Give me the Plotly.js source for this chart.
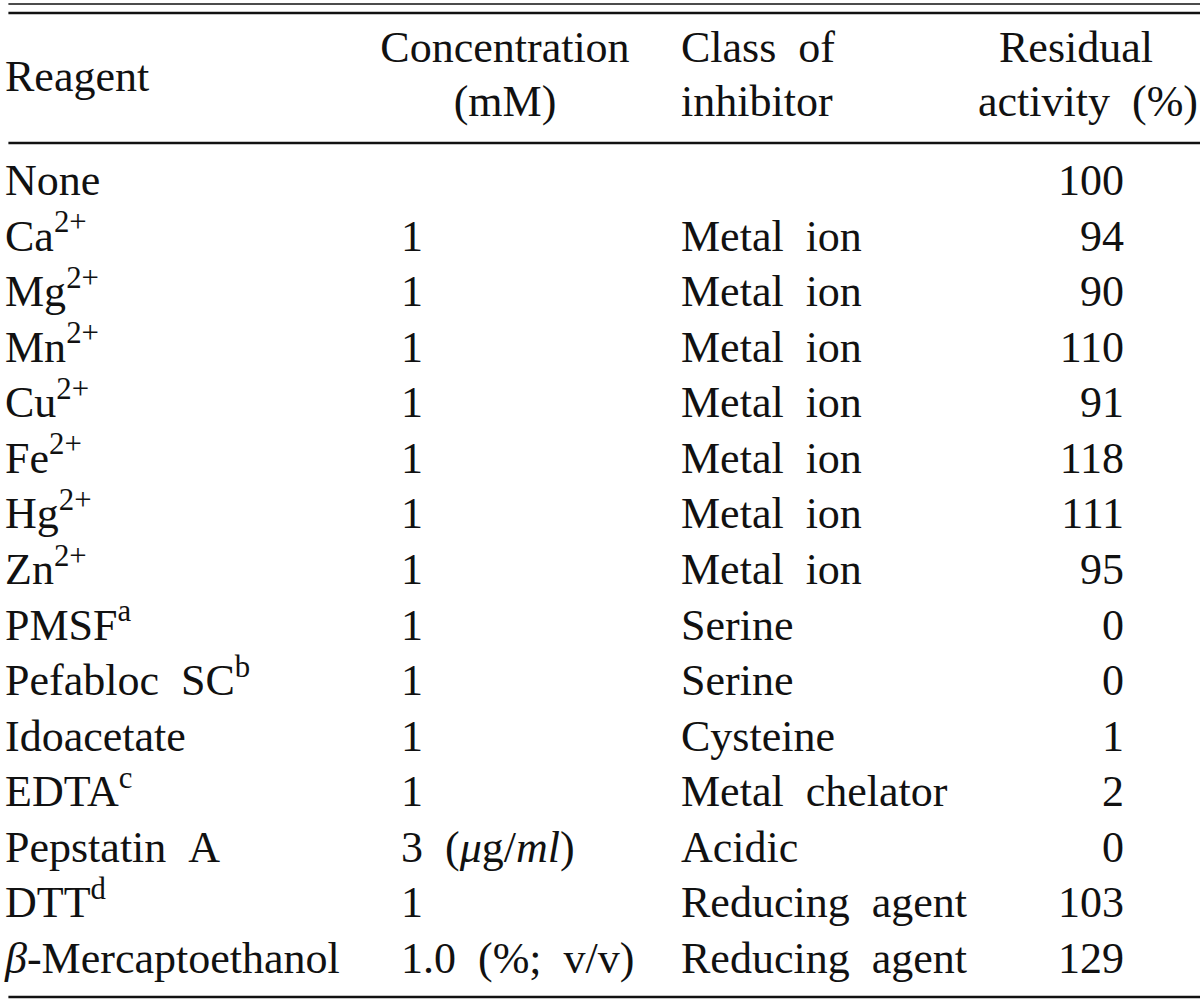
<!DOCTYPE html>
<html><head><meta charset="utf-8">
<script src="https://cdn.plot.ly/plotly-3.0.1.min.js"></script>
<style>body{margin:0;background:#fff}#chart{width:1200px;height:1002px}</style>
</head><body><div id="chart"></div>
<script>
var S = '\u00A0';
var reagents = ['None','Ca<sup>2+</sup>','Mg<sup>2+</sup>','Mn<sup>2+</sup>','Cu<sup>2+</sup>','Fe<sup>2+</sup>','Hg<sup>2+</sup>','Zn<sup>2+</sup>','PMSF<sup>a</sup>','Pefabloc'+S+S+'SC<sup>b</sup>','Idoacetate','EDTA<sup>c</sup>','Pepstatin'+S+S+'A','DTT<sup>d</sup>','<i>β</i>-Mercaptoethanol'];
var concentrations = ['','1','1','1','1','1','1','1','1','1','1','1','3'+S+S+'(<i>μ</i>g/<i>ml</i>)','1','1.0'+S+S+'(%;'+S+S+'v/v)'];
var classes = ['','Metal'+S+S+'ion','Metal'+S+S+'ion','Metal'+S+S+'ion','Metal'+S+S+'ion','Metal'+S+S+'ion','Metal'+S+S+'ion','Metal'+S+S+'ion','Serine','Serine','Cysteine','Metal'+S+S+'chelator','Acidic','Reducing'+S+S+'agent','Reducing'+S+S+'agent'];
var residual = [100,94,90,110,91,118,111,95,0,0,1,2,0,103,129];
var headers = ['Reagent','Concentration','(mM)','Class'+S+S+'of','inhibitor','Residual','activity'+S+S+'(%)'];

var rows = reagents.map(function(_, i){ return i; });
var font = {family:'Liberation Serif, Times New Roman, serif', size:44, color:'#111'};
function col(x, texts, pos){
  return {type:'scatter', mode:'text', x:texts.map(function(){return x;}), y:rows.slice(0,texts.length),
    text:texts, textposition:pos, textfont:font, hoverinfo:'skip', showlegend:false, cliponaxis:false};
}
var data = [
  col(5, reagents, 'middle right'),
  col(401, concentrations, 'middle right'),
  col(681, classes, 'middle right'),
  col(1124, residual.map(String), 'middle left'),
  {type:'scatter', mode:'text', x:[5,505,505,681,681,1076,1088], y:[-1.87,-2.39,-1.42,-2.39,-1.42,-2.39,-1.42],
   text:headers, textposition:['middle right','middle center','middle center','middle right','middle right','middle center','middle center'],
   textfont:font, hoverinfo:'skip', showlegend:false, cliponaxis:false}
];
var layout = {
  width:1200, height:1002, margin:{l:0,r:0,t:0,b:0},
  paper_bgcolor:'#fff', plot_bgcolor:'#fff',
  xaxis:{range:[0,1200], visible:false, fixedrange:true},
  yaxis:{range:[14.72,-3.311], visible:false, fixedrange:true},
  shapes:[
    {type:'line', xref:'paper', yref:'paper', x0:0.007, x1:1, y0:1-4/1002, y1:1-4/1002, line:{color:'#111', width:1.5}},
    {type:'line', xref:'paper', yref:'paper', x0:0.007, x1:1, y0:1-13/1002, y1:1-13/1002, line:{color:'#111', width:2.5}},
    {type:'line', xref:'paper', yref:'paper', x0:0.007, x1:1, y0:1-143/1002, y1:1-143/1002, line:{color:'#111', width:2.5}},
    {type:'line', xref:'paper', yref:'paper', x0:0.007, x1:1, y0:1-997/1002, y1:1-997/1002, line:{color:'#111', width:2.5}}
  ]
};
Plotly.newPlot('chart', data, layout, {staticPlot:true, displayModeBar:false});
</script></body></html>
